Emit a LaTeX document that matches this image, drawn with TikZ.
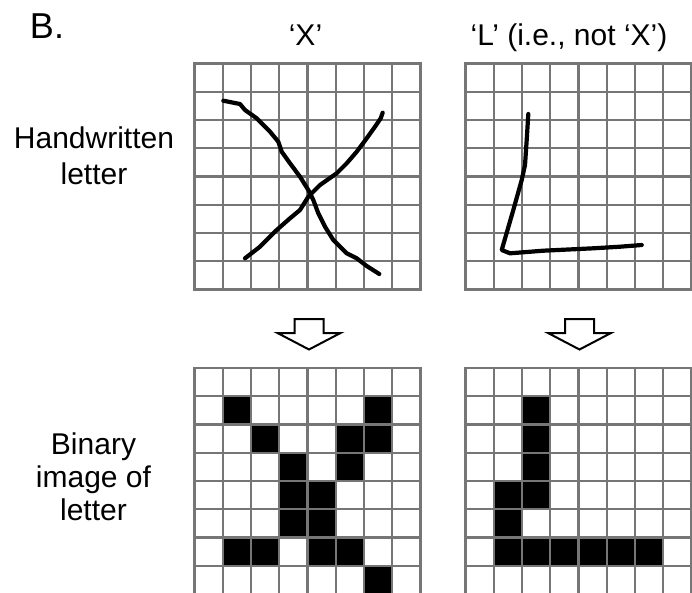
\documentclass[tikz,border=0pt]{standalone}
\usepackage{fontspec}
\setmainfont{Liberation Sans}
\usepackage{tikz}
\usetikzlibrary{calc,positioning}
\definecolor{gris}{RGB}{118,118,118}
\tikzset{
  rejilla/.style={draw=gris,line width=2.3pt,line cap=rect},
  celda/.style={fill=black},
  trazo/.style={black,line width=4.2pt,line cap=round,line join=round},
  flecha/.style={draw=black,fill=white,line width=2pt,line join=miter},
  rotulo/.style={inner sep=0pt,font=\fontsize{30}{36}\selectfont,align=center}
}

\begin{document}
\begin{tikzpicture}[x=1pt,y=-1pt]
\useasboundingbox (0,0) rectangle (692,592);
% rotulos
\node[rotulo,anchor=base,font=\fontsize{36}{40}\selectfont] (letraB) at (47,38.5) {B.};
\node[rotulo,anchor=base] (tituloX) at (305.5,45) {‘X’};
\node[rotulo,anchor=base] (tituloL) at (569,45) {‘L’ (i.e., not ‘X’)};
\node[rotulo] (escrita) at (94,156) {Handwritten\\letter};
\node[rotulo,font=\fontsize{30}{33}\selectfont] (binaria) at (93.5,477) {Binary\\image of\\letter};
% rejilla X manuscrita
\begin{scope}[shift={(194.5,63.5)},x=28.25pt,y=-28.25pt]
\foreach \i in {0,...,8} {
  \draw[rejilla] (\i,0) -- (\i,8);
  \draw[rejilla] (0,\i) -- (8,\i);
}
\end{scope}
\draw[trazo] (223.3,100.7) -- (240,104) -- (245,110) -- (256.7,118.3) -- (270,131.7)
  -- (278.3,141.7) -- (281.7,151.7) -- (290,163.3) -- (300,176.7) -- (308.3,190)
  -- (313.3,200) -- (318.3,213.3) -- (325,226.7) -- (333.3,240) -- (346.7,253.3)
  -- (356.7,258.3) -- (366.7,266) -- (379.3,274);
\draw[trazo] (245,258.3) -- (260,246.7) -- (276.7,230) -- (290,218.3) -- (300,210)
  -- (308.3,196.7) -- (320,185) -- (336.7,173.3) -- (346.7,163.3) -- (356.7,151.7)
  -- (366.7,138.3) -- (375,126.7) -- (380.7,118.3) -- (382.7,112.7);
% rejilla L manuscrita
\begin{scope}[shift={(465.5,63.5)},x=28.25pt,y=-28.25pt]
\foreach \i in {0,...,8} {
  \draw[rejilla] (\i,0) -- (\i,8);
  \draw[rejilla] (0,\i) -- (8,\i);
}
\end{scope}
\draw[trazo] (528.3,114) -- (526.7,140) -- (525,165) -- (521.7,180) -- (513.3,210)
  -- (501.7,250) -- (510,253.3) -- (543.3,250.7) -- (593.3,248.3) -- (620,246.7)
  -- (641.7,245);
% flechas huecas
\draw[flecha,shift={(309,319)}] (-14.5,0) -- (14.5,0) -- (14.5,14) -- (31.5,14)
  -- (0,30.5) -- (-31.5,14) -- (-14.5,14) -- cycle;
\draw[flecha,shift={(579.5,319)}] (-14.5,0) -- (14.5,0) -- (14.5,14) -- (31.5,14)
  -- (0,30.5) -- (-31.5,14) -- (-14.5,14) -- cycle;
% imagen binaria X
\begin{scope}[shift={(194.5,368)},x=28.25pt,y=-28.25pt]
\foreach \c/\r in {1/1,6/1,2/2,5/2,6/2,3/3,5/3,3/4,4/4,3/5,4/5,1/6,2/6,4/6,5/6,6/7}
  \fill[celda] (\c,\r) rectangle ++(1,1);
\foreach \i in {0,...,8} {
  \draw[rejilla] (\i,0) -- (\i,8);
  \draw[rejilla] (0,\i) -- (8,\i);
}
\end{scope}
% imagen binaria L
\begin{scope}[shift={(465.5,368)},x=28.25pt,y=-28.25pt]
\foreach \c/\r in {2/1,2/2,2/3,1/4,2/4,1/5,1/6,2/6,3/6,4/6,5/6,6/6}
  \fill[celda] (\c,\r) rectangle ++(1,1);
\foreach \i in {0,...,8} {
  \draw[rejilla] (\i,0) -- (\i,8);
  \draw[rejilla] (0,\i) -- (8,\i);
}
\end{scope}
\end{tikzpicture}
\end{document}
